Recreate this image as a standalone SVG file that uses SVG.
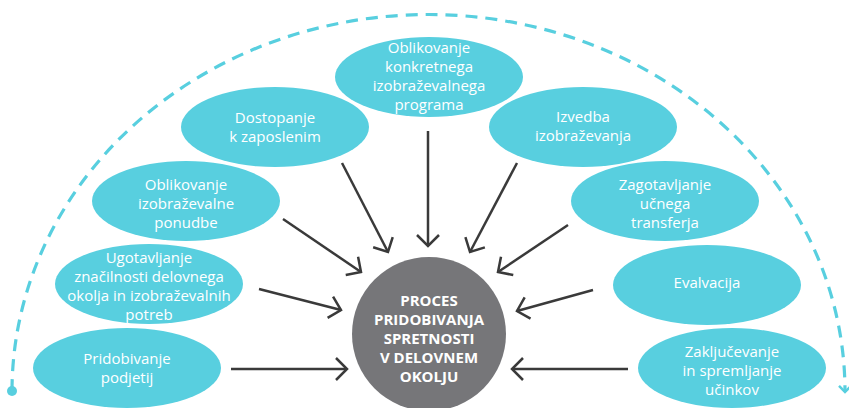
<svg xmlns="http://www.w3.org/2000/svg" width="849" height="408" viewBox="0 0 849 408">
  <defs>
    <style>
      .bubble { fill: #58cfdf; }
      .label { font-family: "Open Sans", "Liberation Sans", sans-serif; font-size: 15px; fill: #ffffff; text-anchor: middle; }
      .core-label { font-family: "Open Sans", "Liberation Sans", sans-serif; font-size: 15px; font-weight: 700; fill: #ffffff; text-anchor: middle; }
      .link { fill: none; stroke: #3a3a3a; stroke-width: 2.5; marker-end: url(#chevron); }
      .orbit { fill: none; stroke: #58cfdf; stroke-width: 3.2; stroke-dasharray: 12 8; marker-end: url(#orbit-tip); }
    </style>
    <marker id="chevron" markerUnits="userSpaceOnUse" viewBox="-14 -14 16 28" markerWidth="16" markerHeight="28" refX="0" refY="0" orient="auto">
      <path d="M -11 -11 L 0 0 L -11 11" fill="none" stroke="#3a3a3a" stroke-width="2.5"/>
    </marker>
    <marker id="orbit-tip" markerUnits="userSpaceOnUse" viewBox="-10 -10 12 20" markerWidth="12" markerHeight="20" refX="0" refY="0" orient="auto">
      <path d="M -6 -6 L 0 0 L -6 6" fill="none" stroke="#58cfdf" stroke-width="2.5"/>
    </marker>
  </defs>

  <!-- dashed cycle arc -->
  <g id="cycle">
    <circle cx="12" cy="391" r="5" fill="#58cfdf"/>
    <path class="orbit" d="M 12 391 A 416.5 377 0 0 1 845 392"/>
  </g>

  <!-- connectors -->
  <g id="connectors">
    <line class="link" x1="428" y1="131" x2="428" y2="246"/>
    <line class="link" x1="342" y1="163" x2="388" y2="252"/>
    <line class="link" x1="517" y1="163" x2="470" y2="252"/>
    <line class="link" x1="283" y1="219" x2="361" y2="272"/>
    <line class="link" x1="568" y1="225" x2="498" y2="272"/>
    <line class="link" x1="259" y1="289" x2="341" y2="310"/>
    <line class="link" x1="593" y1="290" x2="517" y2="311"/>
    <line class="link" x1="231" y1="369" x2="347" y2="369"/>
    <line class="link" x1="628" y1="369" x2="512" y2="369"/>
  </g>

  <g id="n-program">
    <ellipse class="bubble" cx="429" cy="77" rx="94" ry="40"/>
    <text class="label" x="429" y="53">Oblikovanje</text>
    <text class="label" x="429" y="72">konkretnega</text>
    <text class="label" x="429" y="91">izobraževalnega</text>
    <text class="label" x="429" y="110">programa</text>
  </g>

  <g id="n-dostopanje">
    <ellipse class="bubble" cx="275" cy="127" rx="94" ry="40"/>
    <text class="label" x="275" y="123">Dostopanje</text>
    <text class="label" x="275" y="142">k zaposlenim</text>
  </g>

  <g id="n-izvedba">
    <ellipse class="bubble" cx="583" cy="127" rx="94" ry="40"/>
    <text class="label" x="583" y="122">Izvedba</text>
    <text class="label" x="583" y="141">izobraževanja</text>
  </g>

  <g id="n-ponudba">
    <ellipse class="bubble" cx="186" cy="201" rx="94" ry="40"/>
    <text class="label" x="186" y="190">Oblikovanje</text>
    <text class="label" x="186" y="209">izobraževalne</text>
    <text class="label" x="186" y="228">ponudbe</text>
  </g>

  <g id="n-transfer">
    <ellipse class="bubble" cx="665" cy="201" rx="94" ry="40"/>
    <text class="label" x="665" y="190">Zagotavljanje</text>
    <text class="label" x="665" y="209">učnega</text>
    <text class="label" x="665" y="228">transferja</text>
  </g>

  <g id="n-ugotavljanje">
    <ellipse class="bubble" cx="149" cy="284" rx="94" ry="40"/>
    <text class="label" x="149" y="263">Ugotavljanje</text>
    <text class="label" x="149" y="282">značilnosti delovnega</text>
    <text class="label" x="149" y="301">okolja in izobraževalnih</text>
    <text class="label" x="149" y="320">potreb</text>
  </g>

  <g id="n-evalvacija">
    <ellipse class="bubble" cx="707" cy="285" rx="94" ry="40"/>
    <text class="label" x="707" y="288">Evalvacija</text>
  </g>

  <g id="n-podjetja">
    <ellipse class="bubble" cx="127" cy="368" rx="94" ry="40"/>
    <text class="label" x="127" y="364">Pridobivanje</text>
    <text class="label" x="127" y="383">podjetij</text>
  </g>

  <g id="n-zakljucevanje">
    <ellipse class="bubble" cx="732" cy="368" rx="94" ry="40"/>
    <text class="label" x="732" y="357">Zaključevanje</text>
    <text class="label" x="732" y="376">in spremljanje</text>
    <text class="label" x="732" y="395">učinkov</text>
  </g>

  <g id="n-proces">
    <circle cx="429" cy="334" r="77" fill="#767679"/>
    <text class="core-label" x="429" y="306">PROCES</text>
    <text class="core-label" x="429" y="325">PRIDOBIVANJA</text>
    <text class="core-label" x="429" y="344">SPRETNOSTI</text>
    <text class="core-label" x="429" y="363">V DELOVNEM</text>
    <text class="core-label" x="429" y="382">OKOLJU</text>
  </g>
</svg>
